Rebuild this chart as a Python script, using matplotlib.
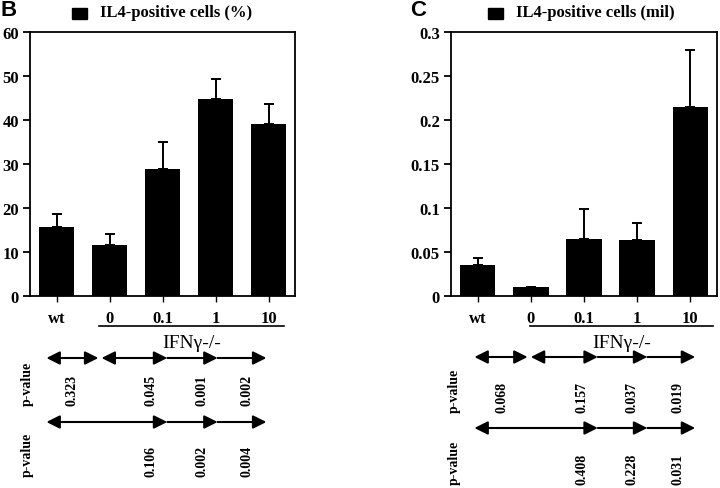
import numpy as np
import matplotlib
matplotlib.use('Agg')
from matplotlib import pyplot as plt
from matplotlib.patches import Rectangle
from matplotlib.transforms import blended_transform_factory

plt.rcParams['font.family'] = 'Liberation Serif'

categories = ['wt', '0', '0.1', '1', '10']
group_label = 'IFN\u03b3-/-'

pct_values = [15.6, 11.7, 28.8, 44.8, 39.0]
pct_errors = [3.0, 2.5, 6.1, 4.6, 4.7]
pct_yticks = [0, 10, 20, 30, 40, 50, 60]
pct_pvals1 = ['0.323', '0.045', '0.001', '0.002']
pct_pvals2 = ['0.106', '0.002', '0.004']

mil_values = [0.035, 0.010, 0.065, 0.064, 0.215]
mil_errors = [0.008, 0.0, 0.034, 0.019, 0.065]
mil_yticks = [0, 0.05, 0.1, 0.15, 0.2, 0.25, 0.3]
mil_pvals1 = ['0.068', '0.157', '0.037', '0.019']
mil_pvals2 = ['0.408', '0.228', '0.031']

W, H = 720, 489
fig = plt.figure(figsize=(W / 100, H / 100), dpi=100)


def fy(py):
    return 1 - py / H


def panel(left, right, letter, letter_x, legend_x, legend_text, values, errors,
          yticks, ylabels, pv1, pv2, lay):
    ax = fig.add_axes([left / W, fy(297), (right - left) / W, (297 - 33) / H])
    x = np.arange(len(categories))
    ax.bar(x, values, width=0.67, color='black', zorder=3)
    ax.errorbar(x, values, yerr=[np.zeros(len(errors)), errors], fmt='none',
                ecolor='black', elinewidth=1.4, capsize=3.5, capthick=1.4, zorder=2)
    ax.set_xlim(-0.5, 4.5)
    ax.set_ylim(yticks[0], yticks[-1])
    ax.set_yticks(yticks)
    ax.set_yticklabels(ylabels, fontweight='bold', fontsize=12)
    ax.set_xticks(x)
    ax.set_xticklabels(categories, fontweight='bold', fontsize=12)
    ax.tick_params(axis='y', length=5, width=1.3, pad=3)
    ax.tick_params(axis='x', length=4, width=1, pad=6)
    for s in ax.spines.values():
        s.set_linewidth(1.3)

    tr = blended_transform_factory(ax.transData, fig.transFigure)
    # underline under IFNg-/- groups
    ax.plot(lay['under'], [fy(327)] * 2, color='black', lw=1.2, transform=tr, clip_on=False)
    ax.text(lay['ifn'], fy(343), group_label, transform=tr, fontsize=14,
            ha='center', va='center')

    def arrow(x1, x2, y, style):
        ax.annotate('', xy=(x2, y), xytext=(x1, y), xycoords=tr, textcoords=tr,
                    annotation_clip=False,
                    arrowprops=dict(arrowstyle=style + ',head_length=0.8,head_width=0.4',
                                    color='black', lw=1.5, shrinkA=0, shrinkB=0))

    a = lay['arr']
    arrow(a[0], a[1], fy(lay['r1']), '<|-|>')
    arrow(a[2], a[3], fy(lay['r1']), '<|-|>')
    arrow(a[3], a[4], fy(lay['r1']), '-|>')
    arrow(a[4], a[5], fy(lay['r1']), '-|>')
    arrow(a[0], a[3], fy(lay['r2']), '<|-|>')
    arrow(a[3], a[4], fy(lay['r2']), '-|>')
    arrow(a[4], a[5], fy(lay['r2']), '-|>')

    for xx, t in zip(lay['t1'], pv1):
        ax.text(xx, fy(lay['b1']), t, transform=tr, rotation=90, fontsize=10,
                fontweight='bold', ha='center', va='bottom')
    for xx, t in zip(lay['t1'][1:], pv2):
        ax.text(xx, fy(lay['b2']), t, transform=tr, rotation=90, fontsize=10,
                fontweight='bold', ha='center', va='bottom')
    for b in (lay['b1'], lay['b2']):
        ax.text(lay['pl'], fy(b), 'p-value', transform=tr, rotation=90, fontsize=10,
                fontweight='bold', ha='center', va='bottom')

    fig.text(letter_x / W, fy(10), letter, family='Liberation Sans', fontweight='bold',
             fontsize=16, ha='left', va='center')
    fig.add_artist(Rectangle((legend_x / W, fy(20)), 15 / W, 11 / H, color='black',
                             transform=fig.transFigure))
    fig.text((legend_x + 28) / W, fy(13), legend_text, fontweight='bold',
             fontsize=12, ha='left', va='center')
    return ax


panel(30, 295, 'B', 0, 72, 'IL4-positive cells (%)', pct_values, pct_errors,
      pct_yticks, [str(v) for v in pct_yticks], pct_pvals1, pct_pvals2,
      dict(under=[0.81, 4.3], ifn=2.55, arr=[-0.19, 0.79, 0.85, 2.09, 3.04, 3.96],
           r1=359, r2=423, t1=[0.3, 1.79, 2.74, 3.6], b1=406, b2=477, pl=-0.55))

panel(451, 717, 'C', 410, 488, 'IL4-positive cells (mil)', mil_values, mil_errors,
      mil_yticks, ['0', '0.05', '0.1', '0.15', '0.2', '0.25', '0.3'], mil_pvals1, mil_pvals2,
      dict(under=[0.98, 4.43], ifn=2.7, arr=[-0.06, 0.94, 1.0, 2.26, 3.19, 4.09],
           r1=358, r2=429, t1=[0.45, 1.96, 2.9, 3.77], b1=413, b2=485, pl=-0.43))

plt.savefig('out.png', dpi=100)
